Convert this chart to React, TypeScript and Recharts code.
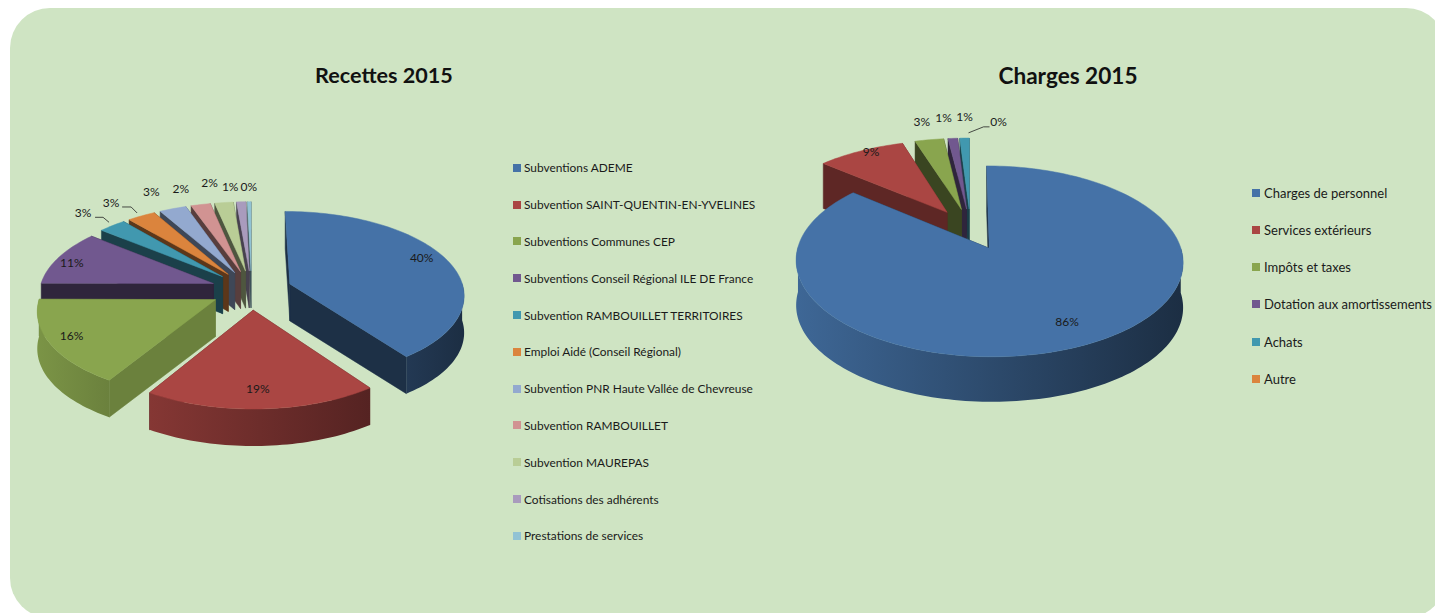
import { useId } from "react";
import { Legend, Pie, PieChart } from "recharts";

const PALETTE = ["#4572A7", "#AA4643", "#89A54E", "#71588F", "#4198AF", "#DB843D", "#93A9CF", "#D19392", "#B9CD96", "#A99BBD", "#92C3D4"];
const FONT = "Lato, 'Noto Sans', sans-serif";

const recettesNames = [
	"Subventions ADEME",
	"Subvention SAINT-QUENTIN-EN-YVELINES",
	"Subventions Communes CEP",
	"Subventions Conseil Régional ILE DE France",
	"Subvention RAMBOUILLET TERRITOIRES",
	"Emploi Aidé (Conseil Régional)",
	"Subvention PNR Haute Vallée de Chevreuse",
	"Subvention RAMBOUILLET",
	"Subvention MAUREPAS",
	"Cotisations des adhérents",
	"Prestations de services",
];
const recettesValues = [39.8, 19.0, 16.2, 10.6, 2.9, 3.0, 2.9, 2.1, 2.0, 1.0, 0.4];

const chargesNames = ["Charges de personnel", "Services extérieurs", "Impôts et taxes", "Dotation aux amortissements", "Achats", "Autre"];
const chargesValues = [86, 9, 3, 1, 1, 0];

// label placement, per slice: radius factor, then a nudge in px
const recettesLabelRadius = [0.8, 0.8, 0.8, 0.8, 1.3, 1.3, 1.3, 1.3, 1.3, 1.3, 1.3];
const recettesLabelNudge = [[6, -6], [-2, 1], [-13, 1], [-17, 0], [0, 0], [-8, 2], [-6, -1], [-10, 0], [-9, -3], [-9, 2], [0, 2]];
const chargesLabelRadius = [0.8, 0.8, 1.3, 1.3, 1.3, 1.3];
const chargesLabelNudge = [[4, -3], [-5, -10], [0, -2], [-6, -5], [1, -5], [28, 0]];

const shade = (hex: string, f: number) => {
	const n = parseInt(hex.slice(1), 16);
	const c = [n >> 16, (n >> 8) & 255, n & 255].map((v) => Math.round(v * f));
	return `rgb(${c[0]},${c[1]},${c[2]})`;
};

const RAD = Math.PI / 180;

// squashes the flat pie into a tilted disc, near side a bit larger
const makeProjection = (view) => (cx: number, cy: number, r: number, X: number, Y: number) => {
	const p = 1 + view.perspective * Y;
	return [cx + r * X * p, cy + r * view.squash * Y * p];
};

function Slice3D({ sector, view, sideShade }) {
	const id = useId();
	const { cx, cy, outerRadius: r, startAngle, endAngle, fill } = sector;
	if (Math.abs(endAngle - startAngle) < 0.01) return null;
	const project = makeProjection(view);
	const mid = ((startAngle + endAngle) / 2) * RAD;
	const ex = Math.cos(mid) * view.explode;
	const ey = -Math.sin(mid) * view.explode;
	const at = (f: number, deg: number) =>
		project(cx, cy, r, ex + f * Math.cos(deg * RAD), ey - f * Math.sin(deg * RAD));

	const steps = Math.max(2, Math.ceil((endAngle - startAngle) / 1.5));
	const arc = [];
	for (let i = 0; i <= steps; i++) arc.push(startAngle + ((endAngle - startAngle) * i) / steps);
	const apex = at(0, 0);
	const d = view.depth;
	const quad = (a, b) => `${a[0]},${a[1]} ${b[0]},${b[1]} ${b[0]},${b[1] + d} ${a[0]},${a[1] + d}`;
	const sideFill = shade(fill, sideShade);
	const top = [apex, ...arc.map((a) => at(1, a))].map((p) => p.join(",")).join(" ");

	// outer wall: only the part on the near side, lit from the left
	const front = arc.filter((a) => Math.sin(a * RAD) <= 0.02);
	const rim = front.map((a) => at(1, a));
	const wallPoints = [...rim, ...rim.map((p) => [p[0], p[1] + d]).reverse()].map((p) => p.join(",")).join(" ");
	const xs = front.map((a) => Math.cos(a * RAD));
	const minX = Math.min(...xs);
	const maxX = Math.max(...xs);
	const wallShade = (x: number) => 0.65 - 0.25 * x;
	const rimXs = rim.map((p) => p[0]);

	return (
		<g>
			<polygon points={quad(apex, at(1, startAngle))} fill={sideFill} stroke={sideFill} strokeWidth={0.5} />
			<polygon points={quad(apex, at(1, endAngle))} fill={sideFill} stroke={sideFill} strokeWidth={0.5} />
			{front.length > 1 && (
				<>
					<defs>
						<linearGradient id={id} gradientUnits="userSpaceOnUse" x1={Math.min(...rimXs)} x2={Math.max(...rimXs)} y1={0} y2={0}>
							<stop offset="0" stopColor={shade(fill, wallShade(minX))} />
							<stop offset="1" stopColor={shade(fill, wallShade(maxX))} />
						</linearGradient>
					</defs>
					<polygon points={wallPoints} fill={`url(#${id})`} />
				</>
			)}
			<polygon points={top} fill={fill} stroke={fill} strokeWidth={0.5} />
		</g>
	);
}

function SliceLabel({ item, view, radius, nudge, leader }) {
	const { cx, cy, outerRadius: r, startAngle, endAngle, percent } = item;
	const mid = ((startAngle + endAngle) / 2) * RAD;
	const f = radius + view.explode;
	const [x0, y0] = makeProjection(view)(cx, cy, r, f * Math.cos(mid), -f * Math.sin(mid));
	const x = x0 + nudge[0];
	const y = y0 + nudge[1];
	return (
		<g>
			{leader && (
				<polyline
					points={leader.map((p) => `${x + p[0]},${y + p[1]}`).join(" ")}
					fill="none"
					stroke="#222"
					strokeWidth={0.8}
				/>
			)}
			<text x={x} y={y} textAnchor="middle" dominantBaseline="central" fontFamily={FONT} fontSize={12} fill="#1a1a1a">
				{Math.round(percent * 100)}%
			</text>
		</g>
	);
}

function LegendList({ names, colors, rowHeight, gap, fontSize }) {
	return (
		<div style={{ fontFamily: FONT, fontSize, color: "#1a1a1a" }}>
			{names.map((name, i) => (
				<div key={name} style={{ display: "flex", alignItems: "center", height: rowHeight, whiteSpace: "nowrap" }}>
					<span style={{ width: 8, height: 8, marginRight: gap, background: colors[i], flex: "none" }} />
					{name}
				</div>
			))}
		</div>
	);
}

function Pie3D({ title, titleX, titleSize, names, values, labelRadius, labelNudge, leaders, sideShades, view, center, radius, width, legend }) {
	const n = names.length;
	// reversed and run counter-clockwise: same layout as clockwise, but the big front slices paint last
	const table = names.map((name, i) => ({ name, value: values[i], fill: PALETTE[i] })).reverse();
	return (
		<PieChart width={width} height={613} margin={{ top: 0, right: 0, bottom: 0, left: 0 }}>
			<text x={titleX} y={75} textAnchor="middle" dominantBaseline="central" fontFamily={FONT} fontWeight={700} fontSize={titleSize} fill="#111">
				{title}
			</text>
			<Pie
				data={table}
				dataKey="value"
				nameKey="name"
				cx={center[0]}
				cy={center[1]}
				outerRadius={radius}
				startAngle={90}
				endAngle={450}
				stroke="none"
				isAnimationActive={false}
				shape={(props) => <Slice3D sector={props} view={view} sideShade={sideShades[names.indexOf(props.name)]} />}
				labelLine={false}
				label={(props) => {
					const i = names.indexOf(props.name);
					return <SliceLabel item={props} view={view} radius={labelRadius[i]} nudge={labelNudge[i]} leader={leaders[i]} />;
				}}
			/>
			<Legend
				wrapperStyle={{ left: legend.left, top: legend.top, width: "auto", bottom: "auto" }}
				content={() => <LegendList names={names} colors={PALETTE.slice(0, n)} rowHeight={legend.rowHeight} gap={legend.gap} fontSize={legend.fontSize} />}
			/>
		</PieChart>
	);
}

export default function App() {
	return (
		<div style={{ position: "relative", width: 1435, height: 613, overflow: "hidden", background: "#fff" }}>
			<style>{`body{margin:0}`}</style>
			<div style={{ position: "absolute", left: 10, top: 8, width: 1436, height: 610, borderRadius: 40, background: "#CFE4C3" }} />
			<div style={{ position: "absolute", left: 0, top: 0 }}>
				<Pie3D
					title="Recettes 2015"
					titleX={384}
					titleSize={21.6}
					names={recettesNames}
					values={recettesValues}
					labelRadius={recettesLabelRadius}
					labelNudge={recettesLabelNudge}
					leaders={{ 4: [[12, 5], [20, 5], [26, 10]], 5: [[11, 4], [20, 4], [26, 10]] }}
					sideShades={[0.42, 0.5, 0.78, 0.42, 0.42, 0.42, 0.42, 0.42, 0.42, 0.42, 0.42]}
					view={{ squash: 84 / 174, perspective: 0.12, explode: 0.234, depth: 37 }}
					center={[251.5, 290]}
					radius={174}
					width={780}
					legend={{ left: 513, top: 149.5, rowHeight: 36.8, gap: 3, fontSize: 11.9 }}
				/>
			</div>
			<div style={{ position: "absolute", left: 780, top: 0 }}>
				<Pie3D
					title="Charges 2015"
					titleX={288}
					titleSize={22.6}
					names={chargesNames}
					values={chargesValues}
					labelRadius={chargesLabelRadius}
					labelNudge={chargesLabelNudge}
					leaders={{ 5: [[-30, 11], [-15, 5], [-9, 5]] }}
					sideShades={[0.42, 0.55, 0.42, 0.42, 0.42, 0.42]}
					view={{ squash: 90 / 186, perspective: 0.145, explode: 0.23, depth: 45 }}
					center={[190.5, 229]}
					radius={186}
					width={655}
					legend={{ left: 472, top: 174.3, rowHeight: 37.2, gap: 4, fontSize: 13 }}
				/>
			</div>
		</div>
	);
}
